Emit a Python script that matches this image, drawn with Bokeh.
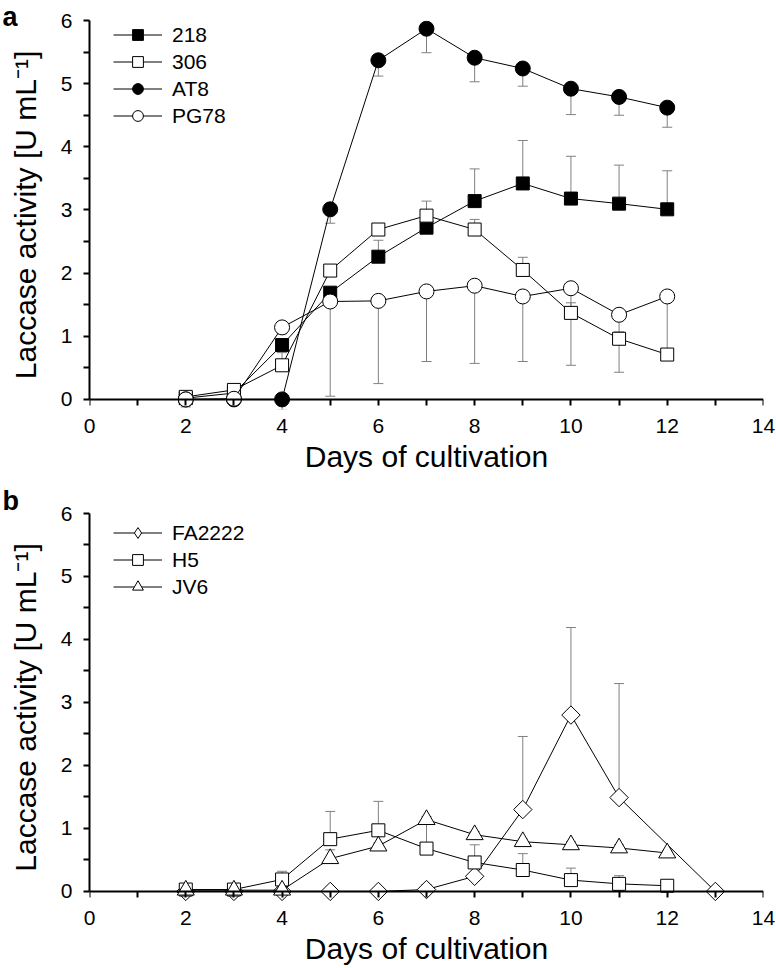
import numpy as np
from bokeh.plotting import figure
from bokeh.models import (Range1d, FixedTicker, LinearAxis, Whisker, ColumnDataSource,
                          Legend, LegendItem, Title, TeeHead)
from bokeh.layouts import column
from bokeh.embed import file_html
from bokeh.resources import INLINE

FONT = "Liberation Sans"

# ---------------- data ----------------
days_a = [2, 3, 4, 5, 6, 7, 8, 9, 10, 11, 12]
act_218 = [0.02, 0.10, 0.86, 1.69, 2.26, 2.72, 3.14, 3.42, 3.18, 3.10, 3.01]
err_218 = [0.03, 0.05, 0.10, 0.08, 0.26, 0.42, 0.51, 0.68, 0.67, 0.61, 0.61]
act_306 = [0.04, 0.15, 0.54, 2.04, 2.69, 2.91, 2.69, 2.05, 1.37, 0.96, 0.71]
err_306 = [0.03, 0.05, 0.20, 0.05, 0.05, 0.05, 0.16, 0.20, 0.16, 0.11, 0.03]
act_at8 = [0.0, 0.0, 0.0, 3.01, 5.37, 5.87, 5.41, 5.24, 4.92, 4.79, 4.62]
err_at8 = [0.0, 0.0, 0.17, 0.22, 0.25, 0.38, 0.38, 0.28, 0.41, 0.29, 0.31]
act_pg78 = [0.0, 0.01, 1.14, 1.55, 1.56, 1.71, 1.80, 1.63, 1.76, 1.34, 1.63]
err_pg78 = [0.12, 0.05, 0.10, 1.50, 1.31, 1.11, 1.23, 1.03, 1.22, 0.91, 0.91]

days_fa = [2, 3, 4, 5, 6, 7, 8, 9, 10, 11, 13]
act_fa = [0.0, 0.0, 0.0, 0.0, 0.0, 0.03, 0.24, 1.30, 2.80, 1.49, 0.0]
err_fa = [0.0, 0.0, 0.0, 0.0, 0.03, 0.08, 0.06, 1.16, 1.39, 1.81, 0.05]
days_b = [2, 3, 4, 5, 6, 7, 8, 9, 10, 11, 12]
act_h5 = [0.03, 0.03, 0.19, 0.83, 0.97, 0.68, 0.46, 0.34, 0.18, 0.12, 0.09]
err_h5 = [0.02, 0.02, 0.13, 0.44, 0.46, 0.39, 0.28, 0.26, 0.19, 0.13, 0.02]
act_jv6 = [0.02, 0.02, 0.02, 0.52, 0.72, 1.14, 0.90, 0.79, 0.74, 0.69, 0.61]
err_jv6 = [0.02, 0.02, 0.02, 0.14, 0.05, 0.05, 0.05, 0.04, 0.05, 0.05, 0.04]

x_ticks = [0, 2, 4, 6, 8, 10, 12, 14]
x_minor = [1, 3, 5, 7, 9, 11, 13]
y_ticks = [0, 1, 2, 3, 4, 5, 6]
y_minor = [0.5, 1.5, 2.5, 3.5, 4.5, 5.5]

X_LABEL = "Days of cultivation"
Y_LABEL = "Laccase activity [U mL\u207b\u00b9]"

ERR_COLOR = "#808080"


def make_fig(height, border_top, border_bottom, letter, letter_standoff):
    p = figure(width=776, height=height, x_range=Range1d(0, 14), y_range=Range1d(-0.16, 6),
               output_backend="svg", toolbar_location=None,
               min_border_left=89, min_border_right=13, min_border_top=border_top,
               min_border_bottom=border_bottom)
    p.title = Title(text=letter, text_font=FONT, text_font_size="27px",
                    text_font_style="bold", text_color="black", align="left",
                    vertical_align="middle", offset=-87, standoff=letter_standoff)
    p.grid.visible = False
    p.outline_line_color = None
    p.background_fill_color = "white"
    p.border_fill_color = "white"

    # x axis line + ticks sitting at y = 0
    xa = p.xaxis[0]
    xa.fixed_location = 0
    xa.ticker = FixedTicker(ticks=x_ticks, minor_ticks=x_minor)
    xa.major_label_overrides = {t: "" for t in x_ticks}
    xa.major_label_standoff = 0
    xa.major_tick_in = 0
    xa.major_tick_out = 6
    xa.minor_tick_in = 0
    xa.minor_tick_out = 6
    xa.axis_line_width = 2
    xa.major_tick_line_width = 2
    xa.minor_tick_line_width = 2

    # tick labels + axis title
    xl = LinearAxis(ticker=FixedTicker(ticks=x_ticks, minor_ticks=[]), axis_label=X_LABEL,
                    axis_line_color=None, major_tick_line_color=None, minor_tick_line_color=None,
                    major_tick_in=0, major_tick_out=0, minor_tick_in=0, minor_tick_out=0,
                    major_label_standoff=9, axis_label_standoff=4,
                    major_label_text_font=FONT, major_label_text_font_size="21px",
                    major_label_text_color="black",
                    axis_label_text_font=FONT, axis_label_text_font_size="30px",
                    axis_label_text_font_style="normal", axis_label_text_color="black")
    p.add_layout(xl, "below")

    ya = p.yaxis[0]
    ya.ticker = FixedTicker(ticks=y_ticks, minor_ticks=y_minor)
    ya.bounds = (0, 6)
    ya.major_tick_in = 0
    ya.major_tick_out = 6
    ya.minor_tick_in = 0
    ya.minor_tick_out = 6
    ya.axis_line_width = 2
    ya.major_tick_line_width = 2
    ya.minor_tick_line_width = 2
    ya.major_label_standoff = 11
    ya.major_label_text_font = FONT
    ya.major_label_text_font_size = "21px"
    ya.major_label_text_color = "black"
    ya.axis_label = Y_LABEL
    ya.axis_label_text_font = FONT
    ya.axis_label_text_font_size = "30px"
    ya.axis_label_text_font_style = "normal"
    ya.axis_label_text_color = "black"
    ya.axis_label_standoff = 16
    return p


def add_series(p, days, vals, errs, marker, size, fill, direction, angle=0.0):
    if direction == "up":
        lo = list(vals)
        hi = [v + e for v, e in zip(vals, errs)]
    else:
        lo = [v - e for v, e in zip(vals, errs)]
        hi = list(vals)
    src = ColumnDataSource(dict(x=days, y=vals, lo=lo, hi=hi))
    head = TeeHead(size=10, line_color=ERR_COLOR, line_width=1)
    if direction == "up":
        w = Whisker(source=src, base="x", lower="lo", upper="hi", dimension="height",
                    line_color=ERR_COLOR, line_width=1, upper_head=head, lower_head=None,
                    level="underlay")
    else:
        w = Whisker(source=src, base="x", lower="lo", upper="hi", dimension="height",
                    line_color=ERR_COLOR, line_width=1, lower_head=head, upper_head=None,
                    level="underlay")
    p.add_layout(w)
    ln = p.line("x", "y", source=src, line_color="black", line_width=1)
    sc = p.scatter("x", "y", source=src, marker=marker, size=size, angle=angle,
                   fill_color=fill, line_color="black", line_width=1)
    return [ln, sc], src


def add_legend(p, items, loc):
    lg = Legend(items=items, location=loc, orientation="vertical",
                glyph_width=49, glyph_height=27, label_standoff=10, spacing=0,
                padding=0, margin=0, border_line_color=None, background_fill_alpha=0,
                label_text_font=FONT, label_text_font_size="21px", label_height=20,
                label_text_color="black")
    p.add_layout(lg)


# ---------------- panel a ----------------
H_A = 475
pa = make_fig(H_A, 20, 64, "a", -25)
r218, _ = add_series(pa, days_a, act_218, err_218, "square", 13, "black", "up")
r306, _ = add_series(pa, days_a, act_306, err_306, "square", 13, "white", "up")
rat8, _ = add_series(pa, days_a, act_at8, err_at8, "circle", 15, "black", "down")
rpg, _ = add_series(pa, days_a, act_pg78, err_pg78, "circle", 15, "white", "down")
add_legend(pa, [LegendItem(label="218", renderers=r218),
                LegendItem(label="306", renderers=r306),
                LegendItem(label="AT8", renderers=rat8),
                LegendItem(label="PG78", renderers=rpg)], (24, 280))

# ---------------- panel b ----------------
H_B = 492
pb = make_fig(H_B, 38, 63, "b", -6)
rfa, src_fa = add_series(pb, days_fa, act_fa, err_fa, "square", 13, "white", "up", angle=np.pi / 4)
# diamond sample for the legend only (legend samples ignore marker rotation)
fa_key = pb.scatter("x", "y", source=src_fa, marker="diamond", size=13,
                    fill_color="white", line_color="black", line_width=1, visible=False)
rh5, _ = add_series(pb, days_b, act_h5, err_h5, "square", 13, "white", "up")
rjv, _ = add_series(pb, days_b, act_jv6, err_jv6, "triangle", 17, "white", "up")
add_legend(pb, [LegendItem(label="FA2222", renderers=[rfa[0], fa_key]),
                LegendItem(label="H5", renderers=rh5),
                LegendItem(label="JV6", renderers=rjv)], (24, 301))

layout = column(pa, pb, spacing=0)
open("out.html", "w").write(file_html(layout, INLINE))
